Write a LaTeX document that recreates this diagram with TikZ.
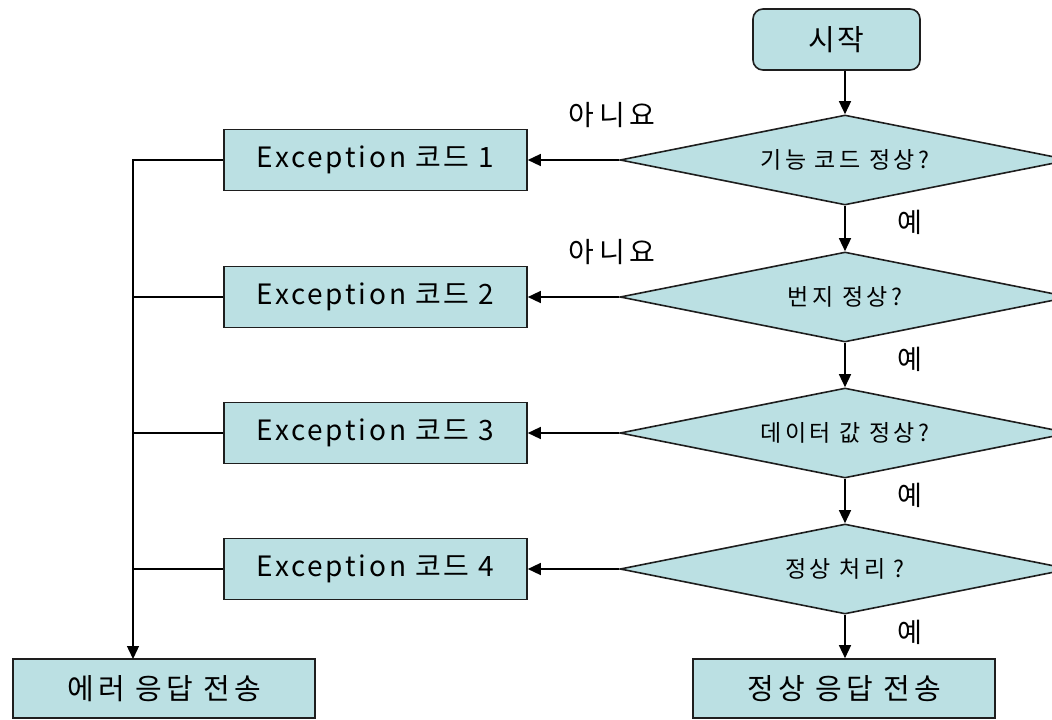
\documentclass[tikz,border=0pt]{standalone}
\usepackage{fontspec}
\setmainfont{Noto Sans CJK KR}
\usetikzlibrary{shapes.geometric,arrows.meta}
\definecolor{boxfill}{RGB}{187,224,227}
\definecolor{edge}{RGB}{30,30,30}
\begin{document}
\begin{tikzpicture}[x=1pt,y=-1pt,
  box/.style={draw=edge,line width=1.6pt,fill=boxfill,inner sep=0pt},
  proc/.style={box,rectangle,minimum width=303pt,minimum height=61pt,font=\fontsize{28}{31}\selectfont\addfontfeature{LetterSpace=10}},
  hproc/.style={box,rectangle,minimum width=302pt,minimum height=59pt,font=\fontsize{29}{32}\selectfont\addfontfeature{LetterSpace=14}},
  dec/.style={box,diamond,aspect=5,minimum width=450pt,minimum height=90pt,font=\fontsize{23}{26}\selectfont\addfontfeature{LetterSpace=15}},
  conn/.style={line width=1.4pt},
  arr/.style={conn,-{Triangle[length=13pt,width=12pt]}},
  lbl/.style={font=\fontsize{28}{31}\selectfont\addfontfeature{LetterSpace=16},inner sep=0pt}]
\clip (0,0) rectangle (1052,720);
\node[box,rounded corners=10pt,minimum width=167pt,minimum height=61pt,font=\fontsize{29}{32}\selectfont\addfontfeature{LetterSpace=10}] (start) at (836.5,39.5) {시작};
\node[dec] (d1) at (845,160) {기능 코드 정상?};
\node[dec] (d2) at (845,297) {번지 정상?};
\node[dec] (d3) at (845,433) {데이터 값 정상?};
\node[dec] (d4) at (845,569) {정상 처리 ?};
\node[proc] (ex1) at (375.5,160) {Exception 코드 1};
\node[proc] (ex2) at (375.5,297) {Exception 코드 2};
\node[proc] (ex3) at (375.5,433) {Exception 코드 3};
\node[proc] (ex4) at (375.5,569) {Exception 코드 4};
\node[hproc] (err) at (164,688.5) {에러 응답 전송};
\node[hproc] (ok) at (844,688.5) {정상 응답 전송};
\coordinate (bus) at (133,659);
\draw[arr] (start.south -| d1.north) -- (d1.north);
\draw[arr] (d1.south) -- (d2.north);
\draw[arr] (d2.south) -- (d3.north);
\draw[arr] (d3.south) -- (d4.north);
\draw[arr] (d4.south) -- (d4.south |- ok.north);
\draw[arr] (d1.west) -- (ex1.east);
\draw[arr] (d2.west) -- (ex2.east);
\draw[arr] (d3.west) -- (ex3.east);
\draw[arr] (d4.west) -- (ex4.east);
\draw[arr] (ex1.west) -| (bus);
\draw[conn] (ex2.west) -- (ex2.west -| bus);
\draw[conn] (ex3.west) -- (ex3.west -| bus);
\draw[conn] (ex4.west) -- (ex4.west -| bus);
\node[lbl] (no1) at (612,115) {아니요};
\node[lbl] (no2) at (612,252) {아니요};
\node[lbl,font=\fontsize{27}{30}\selectfont] (y1) at (910,222) {예};
\node[lbl,font=\fontsize{27}{30}\selectfont] (y2) at (910,359) {예};
\node[lbl,font=\fontsize{27}{30}\selectfont] (y3) at (910,495) {예};
\node[lbl,font=\fontsize{27}{30}\selectfont] (y4) at (910,632) {예};
\end{tikzpicture}
\end{document}
